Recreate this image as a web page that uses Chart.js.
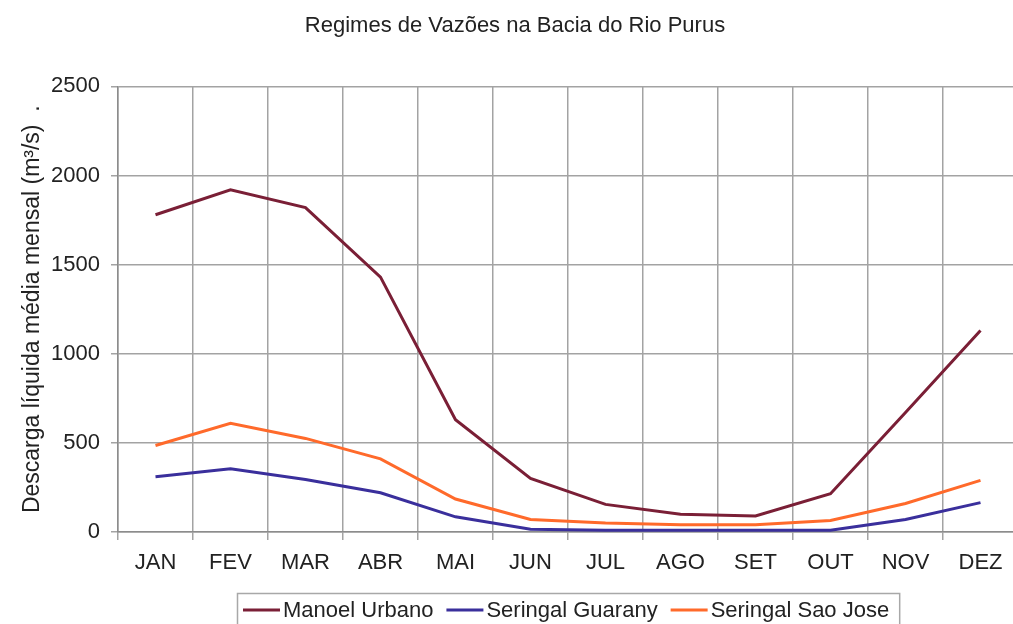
<!DOCTYPE html>
<html>
<head>
<meta charset="utf-8">
<script src="https://cdn.jsdelivr.net/npm/chart.js@4/dist/chart.umd.min.js"></script>
<style>
  html, body { margin: 0; padding: 0; background: #ffffff; overflow: hidden; width: 1013px; height: 624px; }
  #wrap { position: relative; width: 1030px; height: 624px; }
  canvas { display: block; }
</style>
</head>
<body>
<div id="wrap"><canvas id="c" width="1030" height="624"></canvas></div>
<script>
const chartTitle = 'Regimes de Vazões na Bacia do Rio Purus';
const yAxisTitle = 'Descarga líquida média mensal (m³/s)  .';
const months = ['JAN','FEV','MAR','ABR','MAI','JUN','JUL','AGO','SET','OUT','NOV','DEZ'];
const seriesNames = ['Manoel Urbano', 'Seringal Guarany', 'Seringal Sao Jose'];
const manoelUrbano = [1780, 1920, 1820, 1430, 630, 300, 155, 100, 90, 215, 670, 1130];
const seringalGuarany = [310, 355, 295, 220, 85, 15, 10, 10, 10, 10, 70, 165];
const seringalSaoJose = [485, 610, 525, 410, 185, 70, 50, 40, 40, 65, 160, 290];
const yMin = 0, yMax = 2500, yStep = 500;

const seriesColors = ['#7a1f36', '#3a2f9c', '#ff6a2b'];
const FONT = '"Liberation Sans", Arial, sans-serif';
const TEXT = '#222222';
const GRID = '#a3a3a3';

const legendPlugin = {
  id: 'boxLegend',
  afterDraw(chart) {
    const ctx = chart.ctx;
    const area = chart.chartArea;
    ctx.save();
    ctx.font = '22px ' + FONT;
    const lineLen = 37, gapText = 3, gapItem = 13, padL = 6, padR = 10;
    const items = chart.data.datasets.map(ds => ({ label: ds.label, color: ds.borderColor, w: ctx.measureText(ds.label).width }));
    let total = padL + padR;
    items.forEach((it, i) => { total += lineLen + gapText + it.w + (i < items.length - 1 ? gapItem : 0); });
    const cx = (area.left + area.right) / 2;
    const left = Math.round(cx - total / 2);
    const top = area.bottom + 61;
    const h = 36;
    ctx.strokeStyle = '#a8a8a8';
    ctx.lineWidth = 1.5;
    ctx.strokeRect(left + 0.5, top + 0.5, total, h);
    const yc = top + 17;
    let x = left + padL;
    ctx.textBaseline = 'middle';
    ctx.textAlign = 'left';
    items.forEach(it => {
      ctx.strokeStyle = it.color;
      ctx.lineWidth = 3;
      ctx.beginPath();
      ctx.moveTo(x, yc);
      ctx.lineTo(x + lineLen, yc);
      ctx.stroke();
      x += lineLen + gapText;
      ctx.fillStyle = TEXT;
      ctx.fillText(it.label, x, yc + 1);
      x += it.w + gapItem;
    });
    ctx.restore();
  }
};

new Chart(document.getElementById('c'), {
  type: 'line',
  data: {
    labels: months,
    datasets: [
      { label: seriesNames[0], data: manoelUrbano, borderColor: seriesColors[0] },
      { label: seriesNames[1], data: seringalGuarany, borderColor: seriesColors[1] },
      { label: seriesNames[2], data: seringalSaoJose, borderColor: seriesColors[2] }
    ].map(d => Object.assign(d, { borderWidth: 3, pointRadius: 0, tension: 0, fill: false, backgroundColor: d.borderColor }))
  },
  options: {
    responsive: false,
    animation: false,
    layout: { padding: { left: 12, right: 12, top: 0, bottom: 52 } },
    plugins: {
      legend: { display: false },
      tooltip: { enabled: false },
      title: {
        display: true,
        text: chartTitle,
        color: TEXT,
        font: { family: FONT, size: 22, weight: 'normal' },
        padding: { top: 13, bottom: 47 }
      }
    },
    scales: {
      x: {
        type: 'category',
        offset: true,
        grid: { offset: true, color: GRID, lineWidth: 1.5, tickLength: 8, drawTicks: true },
        border: { color: '#8c8c8c', width: 1.5 },
        ticks: { color: TEXT, font: { family: FONT, size: 22 }, padding: 10, maxRotation: 0, autoSkip: false },
        afterFit(scale) { scale.height = 40; }
      },
      y: {
        min: yMin,
        max: yMax,
        ticks: { stepSize: yStep, color: TEXT, font: { family: FONT, size: 22 }, padding: 11,
                 callback: (v) => String(v) },
        grid: { color: GRID, lineWidth: 1.5, tickLength: 7 },
        border: { color: '#8c8c8c', width: 1.5 },
        title: {
          display: true,
          text: yAxisTitle,
          color: TEXT,
          font: { family: FONT, size: 23 },
          padding: { top: 7, bottom: 4 }
        },
        afterFit(scale) { scale.width = 106; }
      }
    }
  },
  plugins: [legendPlugin]
});
</script>
</body>
</html>
